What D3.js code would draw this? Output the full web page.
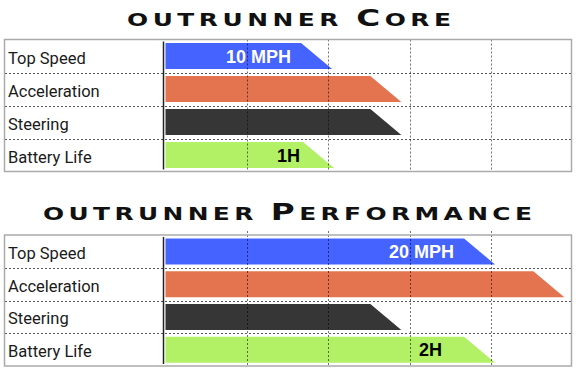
<!DOCTYPE html>
<html>
<head>
<meta charset="utf-8">
<script src="https://cdn.jsdelivr.net/npm/d3@7/dist/d3.min.js"></script>
<style>
  html, body { margin: 0; padding: 0; background: #fff; }
  svg { display: block; }
</style>
</head>
<body>
<svg id="chart" width="576" height="371"></svg>
<script>
// data
const categories = ["Top Speed", "Acceleration", "Steering", "Battery Life"];
const coreValues = [41, 58, 58, 41.5];
const perfValues = [81, 98, 58, 81];
const coreLabels = ["10 MPH", "", "", "1H"];
const perfLabels = ["20 MPH", "", "", "2H"];
const gridTicks = [20, 40, 60, 80];
const barColors = ["#4563ff", "#e4744f", "#363636", "#b2f066"];
const labelColors = ["#ffffff", "#000", "#fff", "#000"];

const svg = d3.select("#chart");

// 0..100 mapped on the plot area
const x = d3.scaleLinear().domain([0, 100]).range([165, 572.5]);

function drawTitle(svg, x0, x1, baseline, small1, big, small2) {
  let sx = 1.42;
  let t = svg.append("text")
    .attr("transform", `translate(${x0},${baseline}) scale(${sx},1)`)
    .attr("x", 0)
    .attr("y", 0)
    .attr("font-family", "DejaVu Sans")
    .attr("font-weight", "bold")
    .attr("fill", "#111")
    .attr("textLength", (x1 - x0) / sx)
    .attr("lengthAdjust", "spacing");
  t.append("tspan").attr("font-size", 17.5).text(small1);
  t.append("tspan").attr("font-size", 23).text(big);
  t.append("tspan").attr("font-size", 17.5).text(small2);
  return t;
}

function drawPanel(svg, top, bottom, values, labels, insets, gridExt) {
  let g = svg.append("g");
  let y = d3.scaleBand().domain(categories).range([top, bottom]);
  let slant = 31;

  // bars
  categories.forEach((c, i) => {
    let y0 = y(c) + 3.5, y1 = y0 + 26;
    let xe = x(values[i]);
    let pts = [[x(0) + 0.5, y0], [xe - slant, y0], [xe, y1], [x(0) + 0.5, y1]];
    g.append("polygon")
      .attr("points", pts.map(p => p.join(",")).join(" "))
      .attr("fill", barColors[i]);
    if (labels[i]) {
      g.append("text")
        .attr("x", xe - slant - insets[i])
        .attr("y", y0 + 19.5)
        .attr("text-anchor", "end")
        .attr("font-family", "Liberation Sans, Arial, sans-serif")
        .attr("font-weight", "bold")
        .attr("font-size", 18)
        .attr("fill", labelColors[i])
        .text(labels[i]);
    }
    g.append("text")
      .attr("x", 8)
      .attr("y", y(c) + y.bandwidth() / 2 + 7.5)
      .attr("font-family", "Roboto, Liberation Sans, sans-serif")
      .attr("font-size", 16.5)
      .attr("fill", "#1a1a1a")
      .text(c);
  });

  // row separators
  categories.slice(1).forEach(c => {
    g.append("line")
      .attr("x1", 5).attr("x2", 571.5)
      .attr("y1", Math.round(y(c)) + 0.5).attr("y2", Math.round(y(c)) + 0.5)
      .attr("stroke", "#555").attr("stroke-width", 1)
      .attr("stroke-dasharray", "2,2");
  });

  // vertical grid
  gridTicks.forEach(t => {
    g.append("line")
      .attr("x1", Math.round(x(t)) + 0.5).attr("x2", Math.round(x(t)) + 0.5)
      .attr("y1", top - gridExt).attr("y2", bottom)
      .attr("stroke", "#000").attr("stroke-opacity", 0.55).attr("stroke-width", 1)
      .attr("stroke-dasharray", "2,2");
  });

  // border
  g.append("rect")
    .attr("x", 4.5).attr("y", top)
    .attr("width", 567).attr("height", bottom - top)
    .attr("fill", "none").attr("stroke", "#aaa").attr("stroke-width", 1.5);

  // axis line
  g.append("line")
    .attr("x1", 163.5).attr("x2", 163.5)
    .attr("y1", top + 2).attr("y2", bottom - 2)
    .attr("stroke", "#222").attr("stroke-width", 1.5);
}

drawTitle(svg, 127, 451, 25.5, "OUTRUNNER ", "C", "ORE");
drawTitle(svg, 43, 532, 219.5, "OUTRUNNER ", "P", "ERFORMANCE");

drawPanel(svg, 39.5, 171.5, coreValues, coreLabels, [10, 0, 0, 3], 0);
drawPanel(svg, 235, 366, perfValues, perfLabels, [10, 0, 0, 22], 4);
</script>
</body>
</html>
